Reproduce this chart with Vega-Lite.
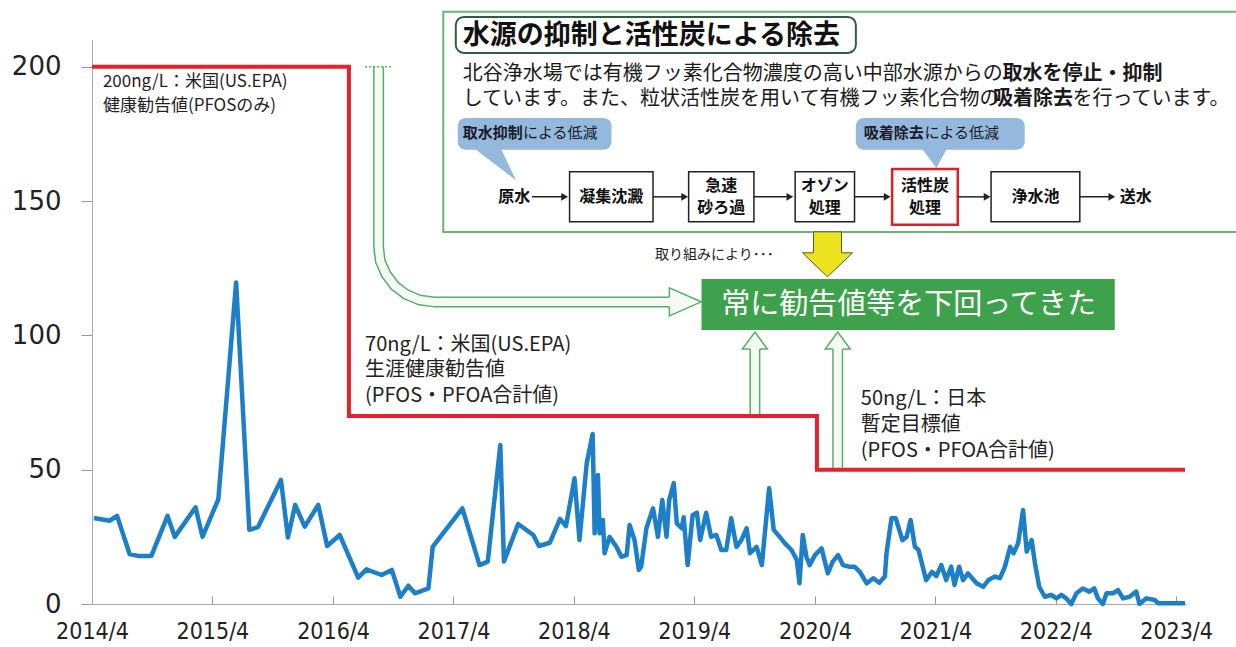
{
  "$schema": "https://vega.github.io/schema/vega-lite/v6.json",
  "width": 1094,
  "height": 564,
  "autosize": {"type": "none"},
  "padding": {"left": 92, "top": 40, "right": 50, "bottom": 43},
  "background": "#ffffff",
  "config": {"view": {"stroke": null}, "text": {"font": "Noto Sans CJK JP"}},
  "datasets": {
    "series": [
      {"d":"2014-04-07","v":32},{"d":"2014-05-24","v":31},{"d":"2014-06-16","v":32.8},{"d":"2014-07-24","v":18.6},{"d":"2014-08-18","v":17.9},{"d":"2014-09-28","v":17.9},{"d":"2014-11-16","v":32.8},{"d":"2014-12-08","v":25},{"d":"2015-02-09","v":36},{"d":"2015-03-02","v":25},{"d":"2015-04-19","v":39},{"d":"2015-06-12","v":119.7},{"d":"2015-07-22","v":27.6},{"d":"2015-08-17","v":28.6},{"d":"2015-10-26","v":46.2},{"d":"2015-11-16","v":24.8},{"d":"2015-12-08","v":36.9},{"d":"2016-01-06","v":28.8},{"d":"2016-02-16","v":36.9},{"d":"2016-03-14","v":21.6},{"d":"2016-04-21","v":25.7},{"d":"2016-06-16","v":9.8},{"d":"2016-07-11","v":12.9},{"d":"2016-08-26","v":10.8},{"d":"2016-09-26","v":12.7},{"d":"2016-10-22","v":2.7},{"d":"2016-11-15","v":6.8},{"d":"2016-12-05","v":4},{"d":"2017-01-15","v":5.8},{"d":"2017-01-28","v":21.3},{"d":"2017-02-20","v":25},{"d":"2017-04-28","v":35.6},{"d":"2017-06-19","v":14.5},{"d":"2017-07-14","v":15.8},{"d":"2017-08-21","v":59.2},{"d":"2017-09-01","v":15.8},{"d":"2017-10-14","v":29.8},{"d":"2017-11-29","v":25.7},{"d":"2017-12-16","v":21.6},{"d":"2018-01-18","v":22.8},{"d":"2018-02-18","v":31.7},{"d":"2018-03-08","v":29},{"d":"2018-04-03","v":46.8},{"d":"2018-04-18","v":23.8},{"d":"2018-05-10","v":52.4},{"d":"2018-05-28","v":63.3},{"d":"2018-06-03","v":26.3},{"d":"2018-06-13","v":48},{"d":"2018-06-18","v":26.3},{"d":"2018-06-28","v":31.3},{"d":"2018-07-03","v":18.9},{"d":"2018-07-18","v":25},{"d":"2018-08-08","v":21.3},{"d":"2018-08-23","v":17.6},{"d":"2018-09-08","v":18.2},{"d":"2018-09-17","v":29.4},{"d":"2018-10-02","v":23.8},{"d":"2018-10-15","v":12.7},{"d":"2018-10-22","v":13.9},{"d":"2018-11-07","v":28.2},{"d":"2018-11-27","v":35.6},{"d":"2018-12-12","v":25},{"d":"2018-12-25","v":38.7},{"d":"2019-01-07","v":25},{"d":"2019-01-15","v":38.7},{"d":"2019-01-29","v":45},{"d":"2019-02-07","v":30},{"d":"2019-02-22","v":28.2},{"d":"2019-02-28","v":32.3},{"d":"2019-03-12","v":14.5},{"d":"2019-03-27","v":33.1},{"d":"2019-04-09","v":34},{"d":"2019-04-19","v":23.8},{"d":"2019-05-07","v":34},{"d":"2019-05-22","v":25},{"d":"2019-06-07","v":25.7},{"d":"2019-06-22","v":20.1},{"d":"2019-07-07","v":20.1},{"d":"2019-07-22","v":31.9},{"d":"2019-08-07","v":21.3},{"d":"2019-08-22","v":23.8},{"d":"2019-09-07","v":28.2},{"d":"2019-09-17","v":18.9},{"d":"2019-10-07","v":21.3},{"d":"2019-10-23","v":14.5},{"d":"2019-11-14","v":43.1},{"d":"2019-11-28","v":27.6},{"d":"2019-12-16","v":25},{"d":"2020-01-01","v":22.6},{"d":"2020-01-21","v":20.1},{"d":"2020-02-06","v":16.4},{"d":"2020-02-14","v":7.7},{"d":"2020-02-24","v":25.7},{"d":"2020-03-06","v":17.6},{"d":"2020-03-16","v":14.5},{"d":"2020-04-01","v":18.2},{"d":"2020-04-21","v":20.7},{"d":"2020-05-10","v":11.4},{"d":"2020-05-25","v":15.8},{"d":"2020-06-10","v":18.2},{"d":"2020-06-25","v":14.5},{"d":"2020-07-13","v":13.9},{"d":"2020-07-30","v":13.9},{"d":"2020-08-15","v":12},{"d":"2020-09-05","v":7.7},{"d":"2020-09-25","v":9.6},{"d":"2020-10-13","v":7.9},{"d":"2020-10-30","v":10.2},{"d":"2020-11-04","v":18.9},{"d":"2020-11-19","v":31.9},{"d":"2020-12-02","v":31.9},{"d":"2020-12-22","v":23.8},{"d":"2021-01-04","v":25},{"d":"2021-01-16","v":31.3},{"d":"2021-01-29","v":21.3},{"d":"2021-02-09","v":20.1},{"d":"2021-03-04","v":8.9},{"d":"2021-03-22","v":12},{"d":"2021-04-04","v":10.4},{"d":"2021-04-19","v":14.5},{"d":"2021-05-04","v":8.9},{"d":"2021-05-19","v":13.9},{"d":"2021-05-29","v":7.1},{"d":"2021-06-12","v":13.9},{"d":"2021-06-24","v":8.9},{"d":"2021-07-09","v":11.4},{"d":"2021-08-04","v":7.7},{"d":"2021-08-24","v":6.4},{"d":"2021-09-09","v":8.9},{"d":"2021-09-29","v":10.2},{"d":"2021-10-14","v":9.6},{"d":"2021-10-29","v":13.9},{"d":"2021-11-14","v":21.3},{"d":"2021-11-24","v":18.9},{"d":"2021-12-08","v":22.6},{"d":"2021-12-23","v":35},{"d":"2022-01-03","v":19.5},{"d":"2022-01-18","v":23.8},{"d":"2022-01-28","v":15.2},{"d":"2022-02-10","v":6.4},{"d":"2022-02-27","v":2.7},{"d":"2022-03-18","v":3.4},{"d":"2022-04-03","v":2.1},{"d":"2022-04-18","v":3.4},{"d":"2022-05-03","v":2.1},{"d":"2022-05-18","v":0},{"d":"2022-06-03","v":4},{"d":"2022-06-22","v":5.8},{"d":"2022-07-12","v":4.6},{"d":"2022-07-27","v":5.8},{"d":"2022-08-07","v":2.1},{"d":"2022-08-22","v":0},{"d":"2022-09-02","v":4},{"d":"2022-09-22","v":4},{"d":"2022-10-07","v":5.2},{"d":"2022-10-22","v":2.1},{"d":"2022-11-11","v":2.7},{"d":"2022-12-01","v":4.6},{"d":"2022-12-11","v":0},{"d":"2023-01-01","v":2.1},{"d":"2023-01-26","v":1.5},{"d":"2023-02-06","v":0.3},{"d":"2023-03-11","v":0.3},{"d":"2023-04-28","v":0.3}
    ],
    "guide": [
      {"i":0,"d":"2014-04-01","v":200},{"i":1,"d":"2016-05-19","v":200},{"i":2,"d":"2016-05-19","v":70},{"i":3,"d":"2020-04-07","v":70},{"i":4,"d":"2020-04-07","v":50},{"i":5,"d":"2023-04-28","v":50}
    ],
    "box": [{"d":"2017-03-01","d2":"2024-01-01","v":220.5,"v2":138.5}],
    "tbox": [{"d":"2017-04-08","d2":"2020-08-03","v":218.6,"v2":205.2}],
    "title": [{"d":"2017-04-29","v":211.5,"t":"水源の抑制と活性炭による除去"}],
    "mtextN": [
      {"d":"2017-04-29","v":197.4,"t":"北谷浄水場では有機フッ素化合物濃度の高い中部水源からの"},
      {"d":"2017-04-29","v":188.1,"t":"しています。また、粒状活性炭を用いて有機フッ素化合物の"},
      {"d":"2022-05-22","v":188.1,"t":"を行っています。"}
    ],
    "mtextB": [
      {"d":"2021-10-22","v":197.4,"t":"取水を停止・抑制"},
      {"d":"2021-09-23","v":188.1,"t":"吸着除去"}
    ],
    "bub": [
      {"d":"2017-04-14","d2":"2018-07-24","v":181,"v2":169.1},
      {"d":"2020-08-03","d2":"2021-12-28","v":181,"v2":169.1}
    ],
    "tail1": [{"d":"2017-08-02","v":163.7}],
    "tail2": [{"d":"2021-03-29","v":165.7}],
    "btextB": [{"d":"2017-04-29","v":175.4,"t":"取水抑制"},{"d":"2020-08-27","v":175.4,"t":"吸着除去"}],
    "btextN": [{"d":"2017-10-29","v":175.4,"t":"による低減"},{"d":"2021-02-27","v":175.4,"t":"による低減"}],
    "fbox": [
      {"d":"2018-03-19","d2":"2018-11-27","v":160.9,"v2":142.3},
      {"d":"2019-03-15","d2":"2019-09-29","v":160.9,"v2":142.3},
      {"d":"2020-02-01","d2":"2020-07-30","v":160.9,"v2":142.3},
      {"d":"2021-09-17","d2":"2022-06-13","v":160.9,"v2":142.3}
    ],
    "rbox": [{"d":"2020-11-21","d2":"2021-06-08","v":162,"v2":141.2}],
    "farrow": [
      {"d":"2017-11-25","d2":"2018-03-04","v":151.6},
      {"d":"2018-11-27","d2":"2019-03-03","v":151.6},
      {"d":"2019-09-29","d2":"2020-01-16","v":151.6},
      {"d":"2020-07-30","d2":"2020-11-06","v":151.6},
      {"d":"2021-06-08","d2":"2021-09-05","v":151.6},
      {"d":"2022-06-13","d2":"2022-09-18","v":151.6}
    ],
    "fhead": [
      {"d":"2018-03-04","v":151.6},{"d":"2019-03-03","v":151.6},{"d":"2020-01-16","v":151.6},{"d":"2020-11-06","v":151.6},{"d":"2021-09-05","v":151.6},{"d":"2022-09-18","v":151.6}
    ],
    "ftext": [
      {"d":"2017-10-02","v":151.6,"t":"原水"},
      {"d":"2018-07-23","v":151.6,"t":"凝集沈澱"},
      {"d":"2019-06-22","v":155.7,"t":"急速"},
      {"d":"2019-06-22","v":147.5,"t":"砂ろ過"},
      {"d":"2020-05-01","v":155.7,"t":"オゾン"},
      {"d":"2020-05-01","v":147.5,"t":"処理"},
      {"d":"2021-03-01","v":155.7,"t":"活性炭"},
      {"d":"2021-03-01","v":147.5,"t":"処理"},
      {"d":"2022-01-30","v":151.6,"t":"浄水池"},
      {"d":"2022-11-30","v":151.6,"t":"送水"}
    ],
    "yellow": [{"d":"2020-05-09","v":130.2}],
    "note": [{"d":"2018-12-03","v":130,"t":"取り組みにより･･･"}],
    "gbox": [{"d":"2019-04-23","d2":"2022-09-27","v":121,"v2":102}],
    "gtext": [{"d":"2021-01-10","v":111.4,"t":"常に勧告値等を下回ってきた"}],
    "curve": [
      {"i":0,"d":"2016-08-17","v":200},{"i":1,"d":"2016-08-17","v":132.96},{"i":2,"d":"2016-08-22","v":127.67},{"i":3,"d":"2016-09-09","v":122.72},{"i":4,"d":"2016-10-05","v":118.47},{"i":5,"d":"2016-11-09","v":115.23},{"i":6,"d":"2016-12-19","v":113.18},{"i":7,"d":"2017-02-01","v":112.48},{"i":8,"d":"2019-02-03","v":112.48}
    ],
    "chead": [{"d":"2019-03-05","v":112.5}],
    "vshaft": [{"d":"2019-10-02","v":70,"v2":96.5},{"d":"2020-06-09","v":50,"v2":96.5}],
    "vhead": [{"d":"2019-10-02","v":98.1},{"d":"2020-06-09","v":98.1}],
    "dots": [{"d":"2016-07-07","d2":"2016-09-27","v":200}],
    "lab200": [
      {"d":"2014-05-04","v":194.4,"t":"200ng/L：米国(US.EPA)"},
      {"d":"2014-05-04","v":185.3,"t":"健康勧告値(PFOSのみ)"}
    ],
    "lab70": [
      {"d":"2016-07-07","v":96.5,"t":"70ng/L：米国(US.EPA)"},
      {"d":"2016-07-07","v":87.2,"t":"生涯健康勧告値"},
      {"d":"2016-07-07","v":77.5,"t":"(PFOS・PFOA合計値)"},
      {"d":"2020-08-18","v":76.3,"t":"50ng/L：日本"},
      {"d":"2020-08-18","v":66.7,"t":"暫定目標値"},
      {"d":"2020-08-18","v":57.0,"t":"(PFOS・PFOA合計値)"}
    ]
  },
  "encoding": {
    "x": {
      "field": "d", "type": "temporal",
      "scale": {"type": "utc", "domain": [{"year":2014,"month":4,"date":1,"utc":true},{"year":2023,"month":5,"date":1,"utc":true}]},
      "axis": {
        "title": null, "grid": false,
        "values": [
          {"year":2014,"month":4,"date":1,"utc":true},{"year":2015,"month":4,"date":1,"utc":true},{"year":2016,"month":4,"date":1,"utc":true},{"year":2017,"month":4,"date":1,"utc":true},{"year":2018,"month":4,"date":1,"utc":true},{"year":2019,"month":4,"date":1,"utc":true},{"year":2020,"month":4,"date":1,"utc":true},{"year":2021,"month":4,"date":1,"utc":true},{"year":2022,"month":4,"date":1,"utc":true},{"year":2023,"month":4,"date":1,"utc":true}
        ],
        "format": "%Y/%-m",
        "domainColor": "#aaaaaa", "tickColor": "#999999", "tickSize": -8,
        "labelFont": "DejaVu Sans Condensed, Liberation Sans Narrow, Liberation Sans",
        "labelFontSize": 23, "labelColor": "#222222", "labelPadding": 24,
        "labelOverlap": false, "labelFlush": false
      }
    },
    "y": {
      "field": "v", "type": "quantitative",
      "scale": {"domain": [0, 210], "nice": false},
      "axis": {
        "title": null, "grid": false, "values": [0, 50, 100, 150, 200],
        "domainColor": "#aaaaaa", "tickColor": "#999999", "tickSize": 11,
        "labelFont": "DejaVu Sans", "labelFontSize": 26, "labelColor": "#222222", "labelPadding": 20
      }
    }
  },
  "layer": [
    {"data": {"name": "box"}, "mark": {"type": "rect", "fill": "#ffffff", "stroke": "#6db37b", "strokeWidth": 2}, "encoding": {"x2": {"field": "d2"}, "y2": {"field": "v2"}}},
    {"data": {"name": "tbox"}, "mark": {"type": "rect", "fill": "#ffffff", "stroke": "#2f5f40", "strokeWidth": 2, "cornerRadius": 8}, "encoding": {"x2": {"field": "d2"}, "y2": {"field": "v2"}}},
    {"data": {"name": "title"}, "mark": {"type": "text", "align": "left", "baseline": "middle", "fontSize": 27, "fontWeight": "bold", "fill": "#111111"}, "encoding": {"text": {"field": "t"}}},
    {"data": {"name": "mtextN"}, "mark": {"type": "text", "align": "left", "baseline": "middle", "fontSize": 20, "fill": "#1a1a1a"}, "encoding": {"text": {"field": "t"}}},
    {"data": {"name": "mtextB"}, "mark": {"type": "text", "align": "left", "baseline": "middle", "fontSize": 20, "fontWeight": "bold", "fill": "#1a1a1a"}, "encoding": {"text": {"field": "t"}}},
    {"data": {"name": "bub"}, "mark": {"type": "rect", "fill": "#95b9dc", "cornerRadius": 8}, "encoding": {"x2": {"field": "d2"}, "y2": {"field": "v2"}}},
    {"data": {"name": "tail1"}, "mark": {"type": "point", "shape": "M -1.375 -1.1 L 0.375 -1.1 L 1.375 1 Z", "size": 1024, "filled": true, "fill": "#95b9dc", "strokeWidth": 0, "opacity": 1}, "encoding": {}},
    {"data": {"name": "tail2"}, "mark": {"type": "point", "shape": "M -1.3 -1.1 L 1.3 -1.1 L 0.2 0.9 Z", "size": 400, "filled": true, "fill": "#95b9dc", "strokeWidth": 0, "opacity": 1}, "encoding": {}},
    {"data": {"name": "btextB"}, "mark": {"type": "text", "align": "left", "baseline": "middle", "fontSize": 15, "fontWeight": "bold", "fill": "#1a1a2a"}, "encoding": {"text": {"field": "t"}}},
    {"data": {"name": "btextN"}, "mark": {"type": "text", "align": "left", "baseline": "middle", "fontSize": 15, "fill": "#1a1a2a"}, "encoding": {"text": {"field": "t"}}},
    {"data": {"name": "fbox"}, "mark": {"type": "rect", "fill": "#ffffff", "stroke": "#222222", "strokeWidth": 1.5}, "encoding": {"x2": {"field": "d2"}, "y2": {"field": "v2"}}},
    {"data": {"name": "rbox"}, "mark": {"type": "rect", "fill": "#ffffff", "stroke": "#e02028", "strokeWidth": 2.5}, "encoding": {"x2": {"field": "d2"}, "y2": {"field": "v2"}}},
    {"data": {"name": "farrow"}, "mark": {"type": "rule", "color": "#222222", "strokeWidth": 1.5}, "encoding": {"x2": {"field": "d2"}}},
    {"data": {"name": "fhead"}, "mark": {"type": "point", "shape": "triangle-right", "size": 60, "filled": true, "color": "#222222", "opacity": 1}, "encoding": {}},
    {"data": {"name": "ftext"}, "mark": {"type": "text", "align": "center", "baseline": "middle", "fontSize": 16, "fontWeight": "bold", "fill": "#111111"}, "encoding": {"text": {"field": "t"}}},
    {"data": {"name": "yellow"}, "mark": {"type": "point", "shape": "M -0.56 -0.9 L 0.56 -0.9 L 0.56 -0.06 L 1 -0.06 L 0 0.9 L -1 -0.06 L -0.56 -0.06 Z", "size": 2500, "filled": true, "fill": "#ece21e", "stroke": "#5a5a2a", "strokeWidth": 1, "opacity": 1}, "encoding": {}},
    {"data": {"name": "note"}, "mark": {"type": "text", "align": "left", "baseline": "middle", "fontSize": 14, "fill": "#222222"}, "encoding": {"text": {"field": "t"}}},
    {"data": {"name": "gbox"}, "mark": {"type": "rect", "fill": "#3da24b"}, "encoding": {"x2": {"field": "d2"}, "y2": {"field": "v2"}}},
    {"data": {"name": "gtext"}, "mark": {"type": "text", "align": "center", "baseline": "middle", "fontSize": 29, "fill": "#ffffff"}, "encoding": {"text": {"field": "t"}}},
    {"data": {"name": "curve"}, "mark": {"type": "line", "color": "#5aac6a", "strokeWidth": 11, "strokeCap": "butt", "strokeJoin": "round"}, "encoding": {"order": {"field": "i"}}},
    {"data": {"name": "curve"}, "mark": {"type": "line", "color": "#f4faf4", "strokeWidth": 8, "strokeCap": "butt", "strokeJoin": "round"}, "encoding": {"order": {"field": "i"}}},
    {"data": {"name": "chead"}, "mark": {"type": "point", "shape": "M -1 -0.31 L -1 -0.875 L 1 0 L -1 0.875 L -1 0.31", "size": 1024, "filled": true, "fill": "#f4faf4", "stroke": "#5aac6a", "strokeWidth": 1.5, "opacity": 1}, "encoding": {}},
    {"data": {"name": "vshaft"}, "mark": {"type": "rule", "color": "#5aac6a", "strokeWidth": 11}, "encoding": {"y2": {"field": "v2"}}},
    {"data": {"name": "vshaft"}, "mark": {"type": "rule", "color": "#f4faf4", "strokeWidth": 8}, "encoding": {"y2": {"field": "v2"}}},
    {"data": {"name": "vhead"}, "mark": {"type": "point", "shape": "M -0.4 0.68 L -1 0.68 L 0 -0.68 L 1 0.68 L 0.4 0.68", "size": 625, "filled": true, "fill": "#f4faf4", "stroke": "#5aac6a", "strokeWidth": 1.5, "opacity": 1}, "encoding": {}},
    {"data": {"name": "dots"}, "mark": {"type": "rule", "color": "#5aac6a", "strokeWidth": 1.5, "strokeDash": [2, 2]}, "encoding": {"x2": {"field": "d2"}}},
    {"data": {"name": "guide"}, "mark": {"type": "line", "color": "#e3222d", "strokeWidth": 4, "strokeJoin": "miter", "strokeCap": "butt"}, "encoding": {"order": {"field": "i"}}},
    {"data": {"name": "lab200"}, "mark": {"type": "text", "align": "left", "baseline": "middle", "fontSize": 17, "fill": "#222222"}, "encoding": {"text": {"field": "t"}}},
    {"data": {"name": "lab70"}, "mark": {"type": "text", "align": "left", "baseline": "middle", "fontSize": 20, "fill": "#222222"}, "encoding": {"text": {"field": "t"}}},
    {"data": {"name": "series"}, "mark": {"type": "line", "color": "#1c7fc8", "strokeWidth": 4.5, "strokeJoin": "round"}, "encoding": {}}
  ]
}
